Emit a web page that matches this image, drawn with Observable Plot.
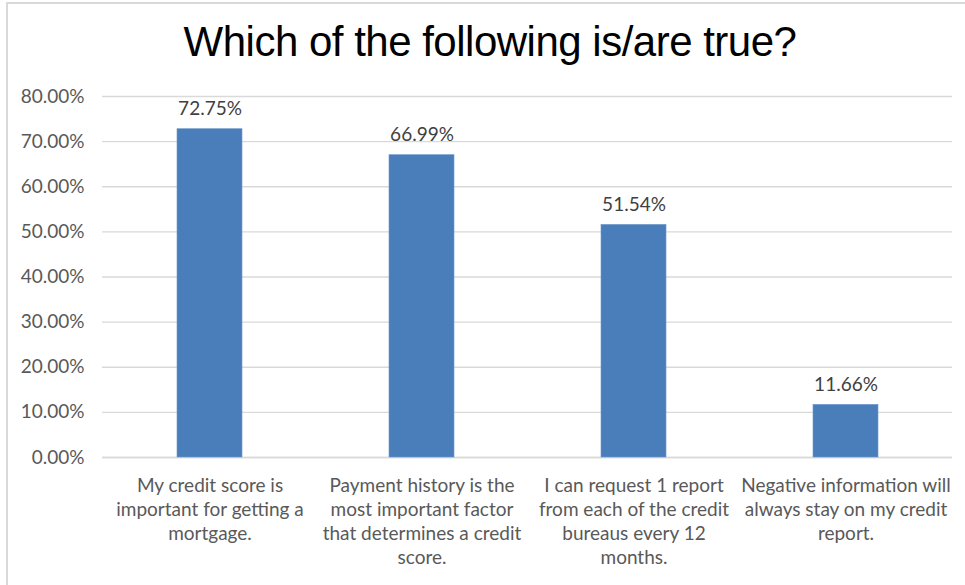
<!DOCTYPE html>
<html>
<head>
<meta charset="utf-8">
<script src="https://cdn.jsdelivr.net/npm/d3@7"></script>
<script src="https://cdn.jsdelivr.net/npm/@observablehq/plot@0.6"></script>
<style>
  html, body { margin: 0; padding: 0; background: #fff; }
  #frame { position: absolute; left: 6px; top: 2px; width: 970px; height: 600px;
           border-left: 2px solid #d9d9d9; border-top: 2px solid #d9d9d9; box-sizing: border-box; }
  #title { position: absolute; left: 0; top: 21px; width: 980px; text-align: center;
           font-family: "Liberation Sans", Arial, sans-serif; font-size: 42px; line-height: 1; color: #000;
           letter-spacing: -0.5px; }
  #chart { position: absolute; left: 0; top: 80px; }
</style>
</head>
<body>
<div id="frame"></div>
<div id="title">Which of the following is/are true?</div>
<div id="chart"></div>
<script>
const categories = [
  "My credit score is important for getting a mortgage.",
  "Payment history is the most important factor that determines a credit score.",
  "I can request 1 report from each of the credit bureaus every 12 months.",
  "Negative information will always stay on my credit report."
];
const tickLabels = [
  "My credit score is\nimportant for getting a\nmortgage.",
  "Payment history is the\nmost important factor\nthat determines a credit\nscore.",
  "I can request 1 report\nfrom each of the credit\nbureaus every 12\nmonths.",
  "Negative information will\nalways stay on my credit\nreport."
];
const values = [0.7275, 0.6699, 0.5154, 0.1166];
const yTicks = [0, 0.1, 0.2, 0.3, 0.4, 0.5, 0.6, 0.7, 0.8];

const data = categories.map((c, i) => ({category: c, label: tickLabels[i], value: values[i]}));
const labelOf = new Map(data.map(d => [d.category, d.label]));
const pct = d3.format(".2%");

const font = "Lato, 'Open Sans', sans-serif";

const chart = Plot.plot({
  width: 965,
  height: 505,
  marginTop: 16,
  marginBottom: 128,
  marginLeft: 102,
  marginRight: 13,
  style: { fontFamily: font, fontSize: "19px", color: "#595959", background: "transparent" },
  x: { domain: categories, paddingInner: 0.694, paddingOuter: 0.347, label: null },
  y: { domain: [0, 0.8], label: null },
  marks: [
    Plot.gridY(yTicks, { stroke: "#d9d9d9", strokeOpacity: 1, strokeWidth: 1.3 }),
    Plot.ruleY([0], { stroke: "#d9d9d9", strokeWidth: 1.5 }),
    Plot.barY(data, { x: "category", y: "value", fill: "#4a7ebb", stroke: "#6a96c9", strokeWidth: 0.6 }),
    Plot.text(data, { x: "category", y: "value", text: d => pct(d.value), lineAnchor: "bottom", dy: -14,
                      fill: "#404040", fontSize: 19 }),
    Plot.axisY({ ticks: yTicks, tickFormat: d3.format(".2%"), tickSize: 0, tickPadding: 18, fontSize: 19, fill: "#595959" }),
    Plot.axisX({ tickSize: 0, tickPadding: 17, tickFormat: c => labelOf.get(c), lineHeight: 1.27, fontSize: 19, fill: "#595959" })
  ]
});
document.getElementById("chart").appendChild(chart);
</script>
</body>
</html>
